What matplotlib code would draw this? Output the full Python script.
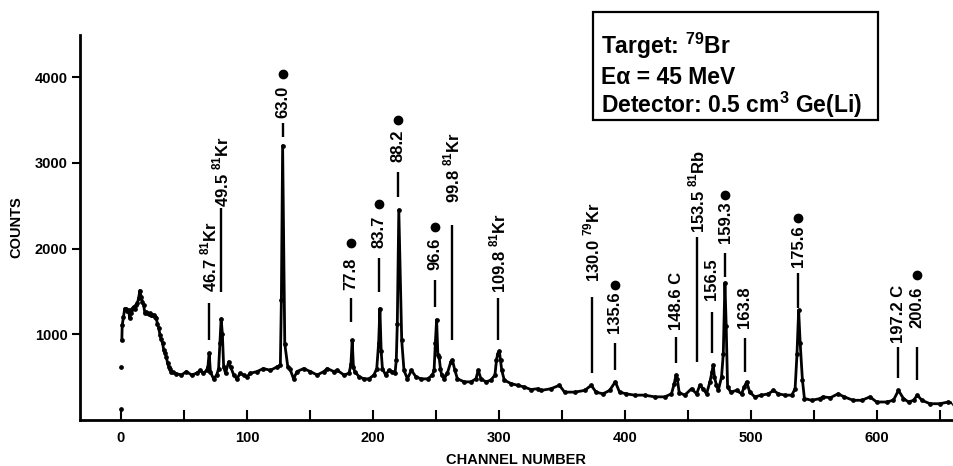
import matplotlib
matplotlib.use("Agg")
import matplotlib.pyplot as plt
from matplotlib.patches import Rectangle
from matplotlib.ticker import FixedLocator

plt.rcParams['font.family'] = ['Liberation Sans', 'DejaVu Sans']

# ---------------- data ----------------
channel = [0, 0.3, 0.7, 1, 2, 3, 4, 5, 6, 7, 8, 9, 10, 11, 12, 13, 14, 15, 16, 17, 18, 19,
           20, 21, 22, 23, 24, 25, 26, 27, 28, 29, 30, 31, 32, 33, 34, 35, 36, 37, 38, 39, 40,
           41, 44, 48, 52, 56, 60, 63, 65.5, 68, 69, 70, 71, 73.5, 76, 77.5, 78.5, 79.5, 80.5,
           81.5, 83, 85.5, 87, 89.5, 92, 94.6, 97.3, 100, 102.7, 108, 113, 118.6, 124, 126.5,
           127.3, 128.3, 130, 132.4, 134, 137, 139.7, 145, 150.3, 155.7, 161, 163.7, 169, 171.6,
           177, 181, 182.5, 183.5, 184.5, 185.5, 189, 192.8, 196.8, 200.8, 203, 204.5, 205.5,
           206.5, 207.5, 210, 212.7, 215.4, 217.5, 218.5, 219.3, 220.5, 222.8, 224.6, 227.3,
           230.5, 234, 238, 243.4, 247.2, 248.5, 249.5, 250.5, 251.5, 252.5, 253.5, 254.5,
           256.5, 259, 261.8, 263, 265, 267, 272.4, 277.7, 281.7, 283.5, 285.7, 289.7, 293.6,
           296.8, 298, 299, 300.3, 301.2, 302.2, 304.2, 309.5, 314.8, 320, 325.4, 330.7, 333.4,
           341.3, 348, 352, 360, 368, 373.2, 377, 382.5, 387.8, 392.3, 395.7, 401, 407.6, 415.6,
           423.6, 431.5, 436.9, 439, 440.5, 441.5, 443, 447.4, 452.8, 456.8, 459.4, 462, 464.7,
           467.4, 469, 470, 471, 472.6, 474, 476.6, 478, 479.3, 480.3, 481.4, 484, 488.5, 492.5,
           494.5, 496.5, 499, 503, 508.3, 513.8, 517.8, 521.8, 527, 532.4, 535, 536.5, 537.8,
           539, 540.8, 542.4, 548.2, 554.8, 557, 563, 569, 574, 581, 588, 594.4, 599.7, 607.7,
           613, 617, 621, 625, 629, 632, 635.6, 642, 650, 656.5, 661]
counts = [125, 615, 930, 1105, 1205, 1300, 1290, 1270, 1280, 1185, 1250, 1300, 1320, 1300, 1340,
          1360, 1420, 1510, 1440, 1380, 1340, 1245, 1260, 1250, 1240, 1245, 1230, 1220, 1225, 1200,
          1185, 1120, 1070, 990, 940, 895, 815, 780, 740, 660, 620, 590, 565,
          560, 540, 525, 565, 525, 545, 580, 545, 580, 620, 780, 560, 480, 525, 600, 900, 1180, 1000,
          620, 545, 680, 620, 525, 480, 545, 525, 505, 545, 565, 600, 580, 620, 640,
          1400, 3200, 890, 620, 600, 480, 565, 600, 565, 525, 565, 600, 565, 580,
          525, 545, 650, 930, 620, 565, 505, 480, 480, 525, 600, 900, 1300,
          800, 600, 525, 580, 565, 545, 700, 1125, 2450, 930, 580, 480,
          580, 505, 480, 480, 525, 580, 900, 1170, 760, 735, 600, 525,
          480, 545, 680, 700, 580, 480, 445, 445, 480, 580, 480, 445, 465,
          525, 700, 775, 800, 700, 580, 465, 425, 405, 385, 355, 365, 345,
          365, 405, 325, 325, 345, 405, 325, 305, 345, 445, 325, 305, 290, 290,
          270, 270, 305, 420, 525, 480, 320, 290, 365, 305, 405, 365, 305,
          445, 560, 640, 500, 405, 345, 500, 775, 1600, 1100, 385, 325, 345, 305,
          380, 445, 325, 270, 290, 305, 345, 305, 290, 290, 365, 775, 1280,
          900, 465, 250, 230, 250, 270, 260, 305, 270, 230, 230, 270, 210, 210,
          230, 345, 250, 210, 230, 290, 230, 190, 190, 210, 190]

peak_labels = [r"46.7 $^{\mathregular{81}}$Kr", r"49.5 $^{\mathregular{81}}$Kr", "63.0", "77.8",
               "83.7", "88.2", "96.6", r"99.8 $^{\mathregular{81}}$Kr", r"109.8 $^{\mathregular{81}}$Kr",
               r"130.0 $^{\mathregular{79}}$Kr", "135.6", "148.6 C", r"153.5 $^{\mathregular{81}}$Rb",
               "156.5", "159.3", "163.8", "175.6", "197.2 C", "200.6"]
peak_channels = [69.8, 79.4, 128.3, 182.5, 204.8, 219.8, 249.2, 262.7, 299.2,
                 373.8, 392.0, 440.5, 457.0, 469.0, 479.4, 495.0, 537.3, 616.7, 631.7]

# ---------------- layout of the annotations (counts units) ----------------
line_lo = [930, 1490, 3300, 1140, 1490, 2600, 1315, 930, 930,
           545, 580, 662, 674, 779, 1666, 557, 1304, 487, 463]
line_hi = [1362, 2470, 3464, 1420, 1888, 2891, 1631, 2273, 1420,
           1432, 895, 965, 2133, 1257, 1946, 954, 1712, 849, 849]
text_lo = [1490, 2483, 3522, 1514, 2004, 3008, 1747, 2530, 1479,
           1607, 1012, 1047, 2180, 1397, 2063, 1070, 1782, 895, 1070]
dot_y = [None, None, 4035, 2063, 2518, 3499, 2249, None, None,
         None, 1572, None, None, None, 2623, None, 2355, None, 1689]

# ---------------- figure ----------------
W, H = 954, 466
fig = plt.figure(figsize=(W / 100, H / 100), dpi=100)
ax = fig.add_axes([80 / W, (H - 420) / H, (952 - 80) / W, (420 - 35) / H])

ax.plot(channel[2:], counts[2:], '-', color='black', lw=2.0)
ax.plot(channel, counts, 'o', color='black', ms=2.4)

for lab, c, lo, hi, tl, dy in zip(peak_labels, peak_channels, line_lo, line_hi, text_lo, dot_y):
    ax.plot([c, c], [lo, hi], color='black', lw=1.7, solid_capstyle='butt')
    ax.text(c, tl, lab, rotation=90, ha='center', va='bottom', fontsize=12,
            fontweight='bold')
    if dy is not None:
        ax.plot([c], [dy], 'o', color='black', ms=6)

ax.set_xlim(-32.5, 659.5)
ax.set_ylim(0, 4490)
for s in ['top', 'right']:
    ax.spines[s].set_visible(False)
for s in ['left', 'bottom']:
    ax.spines[s].set_linewidth(2)

ax.set_xticks([0, 100, 200, 300, 400, 500, 600])
ax.xaxis.set_minor_locator(FixedLocator([50, 150, 250, 350, 450, 550, 650]))
ax.set_yticks([1000, 2000, 3000, 4000])
ax.tick_params(axis='x', which='both', direction='in', length=7, width=1.5, pad=8)
ax.tick_params(axis='y', which='major', direction='out', length=6, width=1.5, pad=3)
for t in ax.get_xticklabels() + ax.get_yticklabels():
    t.set_fontsize(10.5)
    t.set_fontweight('bold')

ax.set_xlabel("CHANNEL NUMBER", fontsize=10.5, fontweight='bold', labelpad=6)
ax.set_ylabel("COUNTS", fontsize=10.5, fontweight='bold', labelpad=8)

# info box
fig.patches.append(Rectangle((593 / W, 1 - 120 / H), (878 - 593) / W, (120 - 12) / H,
                             transform=fig.transFigure, fill=False, lw=1.6, color='black'))
box_lines = [r"Target: $^{\mathregular{79}}$Br", "Eα = 45 MeV",
             r"Detector: 0.5 cm$^{\mathregular{3}}$ Ge(Li)"]
for i, s in enumerate(box_lines):
    fig.text(601 / W, 1 - (54 + 29.5 * i) / H, s, fontsize=16.5, fontweight='bold',
             ha='left', va='baseline')

fig.savefig("out.png", dpi=100)
